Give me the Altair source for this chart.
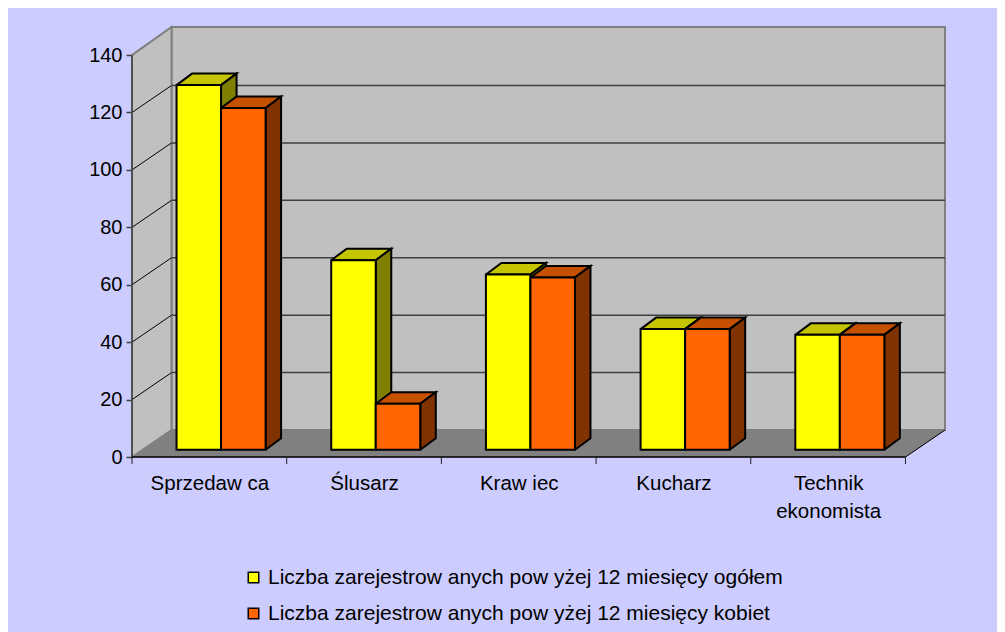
import altair as alt
import pandas as pd

categories = ["Sprzedaw ca", "Ślusarz", "Kraw iec", "Kucharz", "Technik|ekonomista"]
series_names = ["Liczba zarejestrow anych pow yżej 12 miesięcy ogółem",
                "Liczba zarejestrow anych pow yżej 12 miesięcy kobiet"]
ogolem = [127, 66, 61, 42, 40]
kobiet = [119, 16, 60, 42, 40]
y_ticks = [0, 20, 40, 60, 80, 100, 120, 140]
front_colors = ["#FFFF00", "#FF6600"]
top_colors = ["#C4C400", "#C45000"]
side_colors = ["#808000", "#803300"]

# projection of the 3D box, in axis units
PX_X = 154.6
PX_Y = 2.871
DX = 39.5 / PX_X      # wall depth
DY = 27 / PX_Y
BAR_START = 44.5 / PX_X
BAR_W = 44.5 / PX_X
BAR_DX = 15.5 / PX_X
BAR_DY = 11.5 / PX_Y
BASE = 7.3 / PX_Y
N = len(categories)
XMAX = N + DX
YMAX = 430 / PX_Y

x_scale = alt.Scale(domain=[0, XMAX], nice=False, zero=False)
y_scale = alt.Scale(domain=[0, YMAX], nice=False, zero=False)

cat_expr = "split([" + ",".join("'%s'" % c for c in categories) + "][floor(datum.value)], '|')"
x_axis = alt.Axis(values=[i + 0.5 for i in range(N)], grid=False, domain=False, ticks=False,
                  labelExpr=cat_expr, labelPadding=26, labelFont="Liberation Sans", labelFontSize=20.5,
                  labelColor="black", labelLineHeight=28, labelAngle=0, labelBaseline="middle",
                  labelOverlap=False, title=None)
y_axis = alt.Axis(values=y_ticks, grid=False, domain=False, tickColor="#404040", tickSize=6,
                  tickWidth=1.5, labelPadding=4, labelFont="Liberation Sans", labelFontSize=20,
                  labelColor="black", format="d", title=None)
X = lambda: alt.X("x:Q", scale=x_scale, axis=x_axis)
Y = lambda: alt.Y("y:Q", scale=y_scale, axis=y_axis)

def polygons(items):
    rows = []
    for pid, (fill, pts) in enumerate(items):
        pts = list(pts) + [pts[0]]
        for o, (x, y) in enumerate(pts):
            rows.append(dict(poly=pid, ord=o, x=x, y=y, fill=fill))
    return pd.DataFrame(rows)

def paths(items):
    rows = []
    for pid, pts in enumerate(items):
        for o, (x, y) in enumerate(pts):
            rows.append(dict(poly=pid, ord=o, x=x, y=y))
    return pd.DataFrame(rows)

def poly_layer(df, stroke, width):
    return alt.Chart(df).mark_line(stroke=stroke, strokeWidth=width, strokeJoin="miter", clip=False).encode(
        x=X(), y=Y(),
        fill=alt.Fill("fill:N", scale=None, legend=None),
        detail="poly:N", order="ord:Q")

def path_layer(df, stroke, width):
    return alt.Chart(df).mark_line(stroke=stroke, strokeWidth=width, clip=False).encode(
        x=X(), y=Y(), detail="poly:N", order="ord:Q")

# walls and floor
walls = polygons([
    ("#C0C0C0", [(DX, DY), (XMAX, DY), (XMAX, YMAX), (DX, YMAX)]),
    ("#C0C0C0", [(0, 0), (DX, DY), (DX, YMAX), (0, 140)]),
])
floor = polygons([("#808080", [(0, 0), (N, 0), (XMAX, DY), (DX, DY)])])

# gridlines
grid_side = paths([[(0, v), (DX, v + DY)] for v in y_ticks[1:-1]])
grid_back = paths([[(DX, v + DY), (XMAX, v + DY)] for v in y_ticks[1:-1]])
floor_edge = paths([[(N, 0), (XMAX, DY)]])

# bar faces
faces = []
front_rows = []
for s, vals in enumerate([ogolem, kobiet]):
    for i, v in enumerate(vals):
        x0 = i + BAR_START + s * BAR_W
        x1 = x0 + BAR_W
        t = BASE + v
        faces.append((top_colors[s], [(x0, t), (x1, t), (x1 + BAR_DX, t + BAR_DY), (x0 + BAR_DX, t + BAR_DY)]))
        faces.append((side_colors[s], [(x1, BASE), (x1 + BAR_DX, BASE + BAR_DY), (x1 + BAR_DX, t + BAR_DY), (x1, t)]))
        front_rows.append(dict(x=x0, x2=x1, y=BASE, y2=t, series=series_names[s]))
faces_df = polygons(faces)
front_df = pd.DataFrame(front_rows)

fronts = alt.Chart(front_df).mark_bar(stroke="black", strokeWidth=2).encode(
    x=X(), x2="x2:Q",
    y=Y(), y2="y2:Q",
    color=alt.Color("series:N",
        scale=alt.Scale(domain=series_names, range=front_colors),
        legend=alt.Legend(title=None, orient="none", legendX=111, legendY=540,
                          symbolType="square", symbolSize=110, symbolStrokeColor="black",
                          symbolStrokeWidth=1.5, labelFont="Liberation Sans", labelFontSize=21,
                          labelColor="black", labelLimit=700, rowPadding=14, symbolOffset=0,
                          labelOffset=4, direction="vertical")),
)

# axes
y_axis_df = pd.DataFrame({"x": [0, 0], "y": [0, 140]})
y_axis_line = alt.Chart(y_axis_df).mark_line(stroke="#404040", strokeWidth=1.5).encode(x=X(), y=Y())

x_axis_df = pd.DataFrame({"x": [0, N], "y": [0, 0]})
x_axis_line = alt.Chart(x_axis_df).mark_line(stroke="black", strokeWidth=1.5).encode(x=X(), y=Y())
x_ticks = alt.Chart(pd.DataFrame({"x": list(range(N + 1))})).mark_rule(stroke="#202020", strokeWidth=1).encode(
    x=X(), y=alt.value(430), y2=alt.value(437))

chart = alt.layer(
    poly_layer(walls, "#808080", 2),
    poly_layer(floor, "#808080", 0.5),
    path_layer(grid_side, "black", 1),
    path_layer(grid_back, "#404040", 1.5),
    path_layer(floor_edge, "black", 1),
    poly_layer(faces_df, "black", 2),
    fronts,
    y_axis_line,
    x_axis_line,
    x_ticks,
).resolve_scale(fill="independent", color="independent").properties(
    width=813, height=430,
    background="#CCCCFF",
    padding={"left": 124, "top": 19, "right": 52, "bottom": 175},
    autosize=alt.AutoSizeParams(type="none"),
).configure_view(stroke=None)

chart.save("out.html", embed_options={"renderer": "svg", "actions": False})
